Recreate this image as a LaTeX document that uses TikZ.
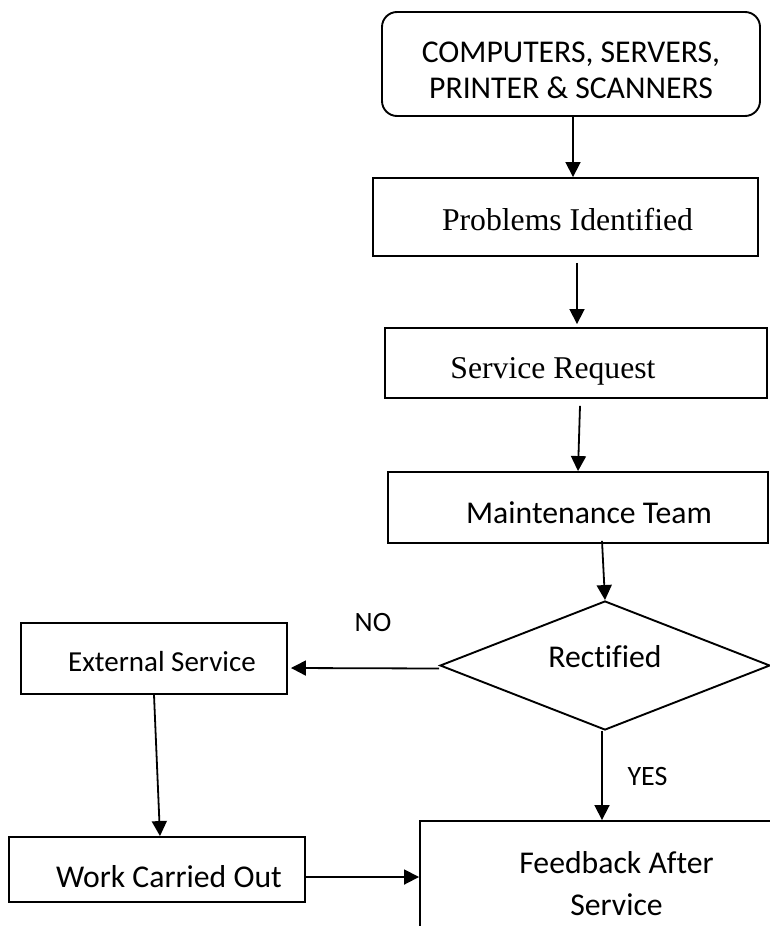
\documentclass[tikz,border=0pt]{standalone}
\usepackage{fontspec}
\setmainfont{Carlito}[Ligatures=NoCommon]
\newfontfamily\tnr{Liberation Serif}[Ligatures=NoCommon]
\usetikzlibrary{shapes.geometric,arrows.meta}
\begin{document}
\begin{tikzpicture}[x=1pt,y=-1pt,
  basebox/.style={draw,line width=1.9pt,inner sep=2pt,font=\fontsize{31.7}{38}\selectfont},
  arr/.style={-{Triangle[length=15pt,width=15pt]},line width=1.8pt},
  lbl/.style={font=\fontsize{28}{34}\selectfont,inner sep=0pt}]
\clip (0,0) rectangle (770,926);
\node[basebox,rounded corners=15pt,minimum width=378pt,minimum height=104pt,align=center,
  font=\fontsize{31.7}{36}\selectfont,text height=68pt,text depth=0pt] (top) at (571,64) {COMPUTERS, SERVERS,\\PRINTER \& SCANNERS};
\node[basebox,minimum width=385pt,minimum height=78pt,font=\tnr\fontsize{31.7}{38}\selectfont,
  text height=26pt,text depth=0pt] (b2) at (565.5,217) {\hspace*{4pt}Problems Identified};
\node[basebox,minimum width=382pt,minimum height=70pt,font=\tnr\fontsize{31.7}{38}\selectfont,
  text height=30pt,text depth=0pt] (b3) at (576,363) {\hspace*{-46pt}Service Request};
\node[basebox,minimum width=380pt,minimum height=71pt,
  text height=31pt,text depth=0pt] (b4) at (578,507.5) {\hspace*{22pt}Maintenance Team};
\node[basebox,diamond,aspect=2.56,inner sep=0pt,minimum width=330pt,minimum height=129pt,
  text height=22pt,text depth=18pt] (dia) at (605,665.5) {Rectified};
\node[basebox,minimum width=266pt,minimum height=71pt,font=\fontsize{29}{35}\selectfont,
  text height=25pt,text depth=0pt] (ext) at (154,658.5) {\hspace*{16pt}External Service};
\node[basebox,minimum width=296pt,minimum height=65pt,
  text height=35pt,text depth=0pt] (work) at (157,869.5) {\hspace*{24pt}Work Carried Out};
\node[basebox,minimum width=393pt,minimum height=126pt,align=center,
  font=\fontsize{31.7}{42}\selectfont] (fb) at (616.5,884) {Feedback After\\Service};
\node[lbl] (no) at (373,623) {NO};
\node[lbl] (yes) at (647.5,777) {YES};
\draw[arr] ([xshift=2pt]top.south) -- ([xshift=7.5pt]b2.north);
\draw[arr] ([xshift=11.5pt,yshift=-6pt]b2.south) -- ([xshift=1pt,yshift=3pt]b3.north);
\draw[arr] ([xshift=4pt,yshift=-7pt]b3.south) -- (b4.north);
\draw[arr] ([xshift=24pt,yshift=3pt]b4.south) -- (dia.north);
\draw[arr] ([yshift=-3pt]dia.west) -- ([xshift=3pt,yshift=-9.5pt]ext.east);
\draw[arr] ([xshift=-3pt]dia.south) -- ([xshift=-14.5pt]fb.north);
\draw[arr] (ext.south) -- ([xshift=3pt]work.north);
\draw[arr] ([yshift=-7.5pt]work.east) -- ([yshift=-7.5pt]work.east -| fb.west);
\end{tikzpicture}
\end{document}
